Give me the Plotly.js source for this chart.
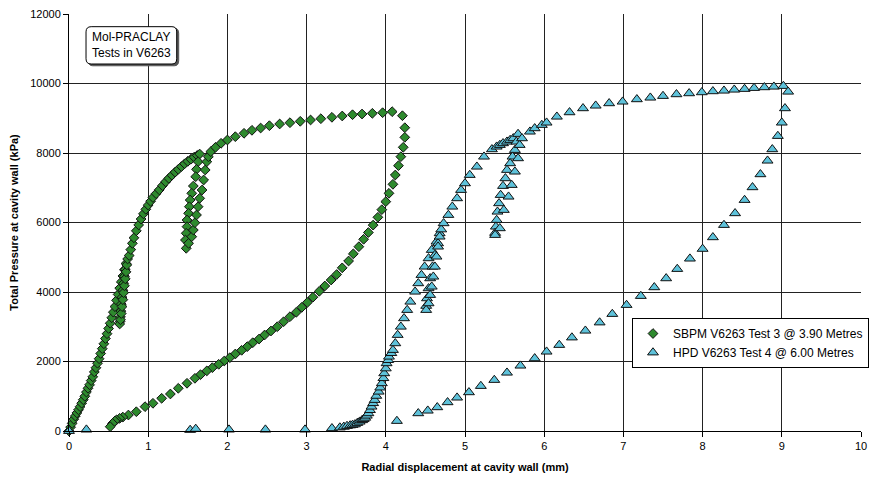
<!DOCTYPE html>
<html>
<head>
<meta charset="utf-8">
<script src="https://cdn.plot.ly/plotly-3.0.1.min.js"></script>
<style>html,body{margin:0;padding:0;background:#fff;}#chart{width:870px;height:477px;}</style>
</head>
<body>
<div id="chart"></div>
<script>
// SBPM V6263 Test 3 @ 3.90 Metres (green diamonds) - displacement (mm)
const sbpmX = [
  0,0.02,0.04,0.06,0.08,0.10,0.12,0.14,0.16,0.18,0.20,0.22,0.24,0.26,0.28,0.30,0.32,0.34,0.36,0.38,0.40,0.42,0.44,0.46,0.48,0.50,0.52,0.54,0.56,0.58,0.60,0.62,0.64,0.66,0.68,0.70,0.72,
  0.71,0.70,0.69,0.68,0.67,0.66,0.655,0.65,0.645,0.64,
  0.65,0.66,0.67,0.68,0.69,0.70,0.71,0.72,0.73,0.74,
  0.76,0.78,0.80,0.82,0.85,0.88,0.91,0.94,0.97,1.00,1.03,1.06,1.10,1.14,1.18,1.22,1.26,1.30,1.34,1.38,1.42,1.46,1.50,1.54,1.58,1.62,1.65,
  1.63,1.61,1.60,1.57,1.55,1.53,1.52,1.51,1.49,1.49,1.48,1.47,1.48,
  1.51,1.55,1.57,1.59,1.61,1.63,1.65,1.68,1.70,1.72,1.74,1.76,
  1.79,1.85,1.92,2.00,2.10,2.21,2.31,2.42,2.53,2.66,2.79,2.92,3.05,3.18,3.32,3.45,3.58,3.70,3.83,3.96,4.08,
  4.21,4.24,4.24,4.22,4.19,4.16,4.12,4.09,4.04,4.00,3.95,3.90,3.84,3.78,3.72,3.66,3.59,3.53,3.45,3.38,3.31,3.23,3.16,3.08,3.01,2.94,2.87,2.79,2.71,2.63,2.55,2.47,2.40,2.32,2.25,2.18,2.10,2.03,1.96,1.89,1.81,1.74,1.66,1.59,1.49,1.38,1.28,1.17,1.06,0.96,0.85,0.75,0.68,0.64,0.60,0.58,0.55,0.52
];
// SBPM total pressure (kPa)
const sbpmY = [
  0,110,220,340,430,520,610,700,800,900,1000,1120,1230,1330,1450,1560,1700,1820,1950,2080,2230,2370,2510,2660,2800,2950,3100,3260,3420,3580,3760,3930,4110,4290,4460,4640,4820,
  4650,4450,4250,4050,3850,3650,3450,3280,3150,3080,
  3200,3380,3580,3780,3980,4180,4380,4580,4780,4950,
  5050,5220,5400,5560,5760,5930,6100,6250,6380,6500,6610,6720,6830,6940,7060,7170,7270,7360,7450,7530,7610,7690,7760,7820,7880,7930,7970,
  7750,7530,7318,7050,6840,6647,6455,6265,6072,5880,5690,5496,5257,
  5400,5592,5784,5994,6216,6455,6696,6935,7223,7511,7750,7894,
  8038,8164,8279,8374,8470,8567,8653,8719,8786,8835,8872,8912,8950,8987,9027,9065,9102,9122,9142,9160,9189,
  9073,8728,8450,8164,7894,7635,7367,7099,6840,6600,6370,6150,5925,5712,5517,5304,5098,4892,4695,4503,4345,4173,4020,3850,3700,3560,3416,3289,3145,3001,2878,2763,2647,2541,2426,2322,2216,2109,2014,1919,1822,1730,1620,1516,1373,1229,1065,941,797,700,555,460,400,365,320,288,220,124
];
// HPD V6263 Test 4 @ 6.00 Metres (cyan triangles) - displacement (mm)
const hpdX = [
  0,0.22,1.53,1.60,2.02,2.48,2.98,3.32,3.42,3.47,3.51,3.55,3.58,3.61,3.64,3.67,3.70,3.72,3.74,3.76,3.78,3.80,3.82,3.84,3.86,3.88,3.91,3.93,3.95,3.97,3.98,4.00,4.01,4.03,4.04,4.07,4.09,4.12,4.15,4.19,4.23,4.27,4.31,4.37,4.41,4.45,4.49,4.54,4.58,4.64,4.68,
  4.66,4.62,4.59,4.56,4.54,4.52,4.51,4.51,
  4.54,4.56,4.58,4.60,4.62,4.64,4.66,4.68,4.70,
  4.73,4.79,4.84,4.90,4.95,5.00,5.06,5.15,5.24,5.34,5.40,5.44,5.48,5.53,5.57,5.61,5.67,
  5.65,5.63,5.60,5.57,5.53,5.51,5.48,5.45,5.43,5.41,5.40,5.39,5.38,5.38,
  5.44,5.49,5.55,5.59,5.63,5.67,5.69,5.72,
  5.82,5.88,5.97,6.03,6.16,6.32,6.49,6.65,6.82,6.99,7.17,7.34,7.50,7.67,7.83,7.99,8.13,8.27,8.40,8.53,8.65,8.78,8.90,9.02,9.08,
  9.04,9.00,8.95,8.88,8.82,8.73,8.63,8.53,8.41,8.27,8.13,8.00,7.84,7.68,7.54,7.39,7.22,7.04,6.86,6.70,6.52,6.35,6.19,6.03,5.88,5.70,5.53,5.37,5.20,5.05,4.90,4.78,4.65,4.53,4.41,4.14
];
// HPD total pressure (kPa)
const hpdY = [
  0,40,30,60,40,40,40,78,100,120,144,160,173,190,230,268,310,340,380,440,509,600,700,800,892,1010,1131,1250,1373,1520,1660,1800,1948,2040,2138,2240,2331,2523,2763,3001,3243,3482,3721,4009,4250,4489,4729,4969,5209,5448,5689,
  5400,5065,4729,4393,4105,3817,3600,3482,
  3673,3914,4153,4441,4729,5017,5305,5593,5800,
  5977,6216,6455,6696,6935,7127,7367,7606,7894,8106,8182,8230,8279,8325,8374,8422,8547,
  8325,8086,7894,7703,7511,7271,7050,6791,6552,6311,6072,5880,5700,5640,
  5833,6360,6743,7079,7463,7847,8230,8422,
  8614,8710,8806,8873,9045,9170,9286,9362,9430,9477,9545,9592,9640,9689,9717,9746,9775,9793,9822,9842,9870,9890,9908,9928,9764,
  9286,8873,8489,8106,7779,7387,7013,6647,6265,5928,5574,5240,4960,4662,4393,4135,3885,3626,3367,3122,2886,2690,2475,2283,2091,1880,1678,1468,1295,1113,960,826,682,585,509,288
];
const seriesNames = ['SBPM V6263 Test 3 @ 3.90 Metres', 'HPD V6263 Test 4 @ 6.00 Metres'];
const xTicks = [0,1,2,3,4,5,6,7,8,9,10];
const yTicks = [0,2000,4000,6000,8000,10000,12000];

const FONT = 'Liberation Sans, Arial, sans-serif';

const traces = [
  {
    x: sbpmX, y: sbpmY, type: 'scatter', mode: 'markers', name: seriesNames[0],
    marker: {symbol: 'diamond', size: 7.5, color: '#2e8a2e', line: {color: '#111', width: 1}},
    cliponaxis: false
  },
  {
    x: hpdX, y: hpdY, type: 'scatter', mode: 'markers', name: seriesNames[1],
    marker: {symbol: 'triangle-up', size: 9.5, color: '#5ec2da', line: {color: '#111', width: 1}},
    cliponaxis: false
  }
];

const layout = {
  width: 870, height: 477,
  margin: {l: 69, r: 9, t: 14, b: 46, autoexpand: false},
  paper_bgcolor: '#fff', plot_bgcolor: '#fff',
  font: {family: FONT, size: 11, color: '#000'},
  showlegend: true,
  legend: {
    x: 1.0101, xanchor: 'right', y: 0.211, yanchor: 'middle',
    bgcolor: '#fff', bordercolor: '#000', borderwidth: 1,
    font: {family: FONT, size: 12, color: '#000'},
    itemwidth: 30, tracegroupgap: 0
  },
  xaxis: {
    range: [0, 10], tickvals: xTicks, ticktext: xTicks.map(String),
    showgrid: true, gridcolor: '#222', gridwidth: 1,
    zeroline: false, showline: true, linecolor: '#000', linewidth: 1,
    ticks: 'outside', ticklen: 5, tickcolor: '#000',
    tickfont: {family: FONT, size: 11},
    title: {text: '<b>Radial displacement at cavity wall (mm)</b>', font: {family: FONT, size: 11}, standoff: 12}
  },
  yaxis: {
    range: [0, 12000], tickvals: yTicks, ticktext: yTicks.map(String),
    showgrid: true, gridcolor: '#222', gridwidth: 1,
    zeroline: false, showline: true, linecolor: '#000', linewidth: 1,
    ticks: 'outside', ticklen: 5, tickcolor: '#000',
    tickfont: {family: FONT, size: 11},
    title: {text: '<b>Total Pressure at cavity wall (kPa)</b>', font: {family: FONT, size: 11}, standoff: 9}
  },
  shapes: [
    {type: 'path', xref: 'x', yref: 'y', layer: 'above',
     path: 'M 0.30,11590 L 1.33,11590 Q 1.385,11590 1.385,11440 L 1.385,10660 Q 1.385,10510 1.33,10510 L 0.30,10510 Q 0.245,10510 0.245,10660 L 0.245,11440 Q 0.245,11590 0.30,11590 Z',
     fillcolor: '#555', line: {color: '#555', width: 1}},
    {type: 'path', xref: 'x', yref: 'y', layer: 'above',
     path: 'M 0.28,11635 L 1.30,11635 Q 1.36,11635 1.36,11485 L 1.36,10711 Q 1.36,10561 1.30,10561 L 0.28,10561 Q 0.215,10561 0.215,10711 L 0.215,11485 Q 0.215,11635 0.28,11635 Z',
     fillcolor: '#fff', line: {color: '#000', width: 1}}
  ],
  annotations: [
    {xref: 'x', yref: 'y', x: 0.27, y: 11100, xanchor: 'left', yanchor: 'middle', align: 'left',
     showarrow: false, text: 'Mol-PRACLAY<br>Tests in V6263',
     font: {family: FONT, size: 12, color: '#000'}}
  ]
};

Plotly.newPlot('chart', traces, layout, {staticPlot: true, displayModeBar: false});
</script>
</body>
</html>
